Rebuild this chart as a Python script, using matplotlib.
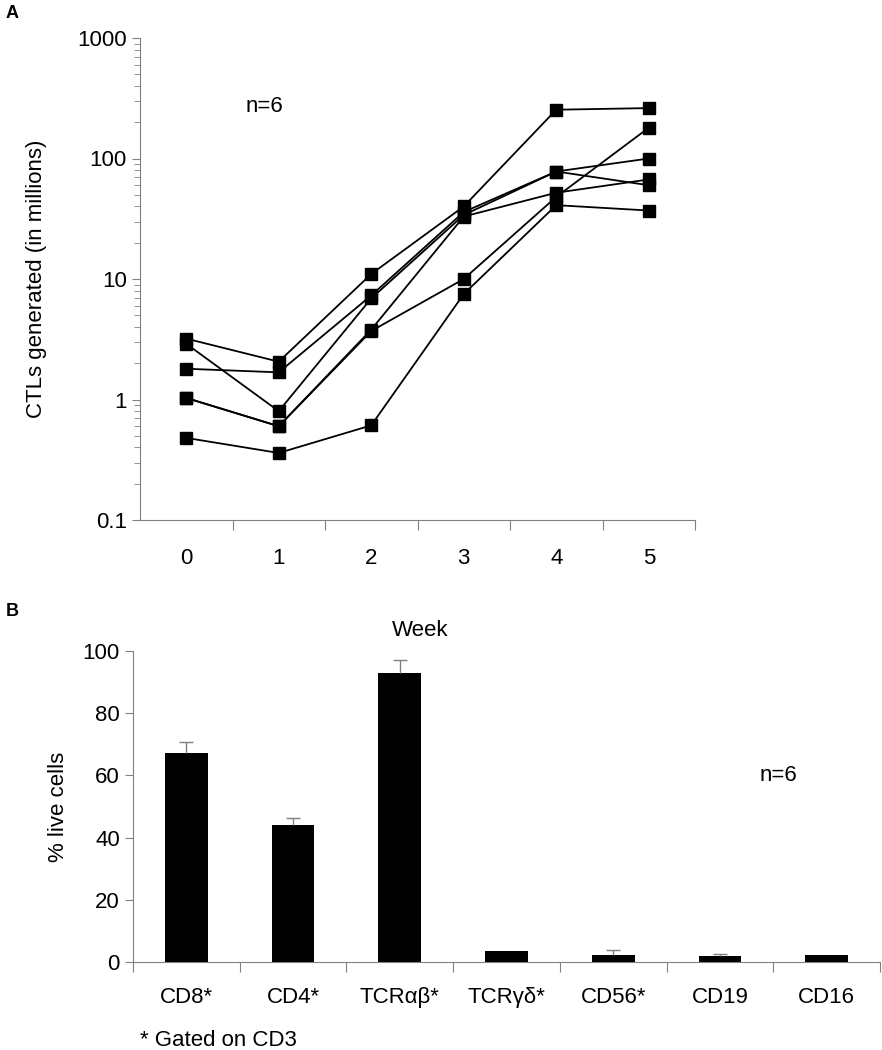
import numpy as np
import matplotlib
matplotlib.use("Agg")
import matplotlib.pyplot as plt
from matplotlib.ticker import FixedLocator, NullFormatter, LogLocator

plt.rcParams['font.family'] = ['Liberation Sans', 'DejaVu Sans']

# panel A: CTL expansion per donor (millions)
weeks = [0, 1, 2, 3, 4, 5]
donor1 = [3.2, 2.06, 11.0, 40.0, 254.0, 262.0]
donor2 = [1.8, 1.68, 7.3, 36.0, 78.0, 100.0]
donor3 = [2.9, 0.80, 6.9, 34.0, 78.0, 60.0]
donor4 = [1.03, 0.60, 3.8, 33.0, 52.0, 67.0]
donor5 = [1.03, 0.60, 3.7, 10.0, 48.0, 180.0]
donor6 = [0.48, 0.36, 0.61, 7.5, 41.0, 37.0]
donors = [donor1, donor2, donor3, donor4, donor5, donor6]

# panel B: phenotype
markers = ["CD8*", "CD4*", "TCR\u03b1\u03b2*", "TCR\u03b3\u03b4*", "CD56*", "CD19", "CD16"]
pct_live = [67.3, 44.2, 92.8, 3.4, 2.1, 1.8, 2.4]
pct_err = [3.3, 2.0, 4.4, 0.0, 1.6, 0.8, 0.0]

grey = '#808080'
fs = 16
W, H = 882, 1050
fig = plt.figure(figsize=(W / 100, H / 100), dpi=100)

# ---- panel A
axA = fig.add_axes([140 / W, 1 - 520 / H, (695 - 140) / W, (520 - 38) / H])
for d in donors:
    axA.plot(weeks, d, color='black', lw=1.3, marker='s', markersize=9,
             markerfacecolor='black', markeredgecolor='black')
axA.set_yscale('log')
axA.set_ylim(0.1, 1000)
axA.set_xlim(-0.5, 5.5)
axA.set_yticks([0.1, 1, 10, 100, 1000])
axA.set_yticklabels(['0.1', '1', '10', '100', '1000'])
axA.yaxis.set_minor_locator(LogLocator(base=10, subs=np.arange(2, 10)))
axA.yaxis.set_minor_formatter(NullFormatter())
axA.xaxis.set_major_locator(FixedLocator([0.5, 1.5, 2.5, 3.5, 4.5, 5.5]))
axA.xaxis.set_major_formatter(NullFormatter())
axA.xaxis.set_minor_locator(FixedLocator(weeks))
axA.set_xticklabels([str(w) for w in weeks], minor=True)
axA.tick_params(axis='x', which='major', length=7, color=grey, direction='out')
axA.tick_params(axis='x', which='minor', length=0, pad=20, labelsize=fs)
axA.tick_params(axis='y', which='major', length=6, color=grey, labelsize=fs)
axA.tick_params(axis='y', which='minor', length=4, color=grey)
for s in ['top', 'right']:
    axA.spines[s].set_visible(False)
for s in ['left', 'bottom']:
    axA.spines[s].set_color(grey)
axA.set_ylabel('CTLs generated (in millions)', fontsize=fs, labelpad=22)
axA.text(0.85, 270, 'n=6', fontsize=fs, ha='center', va='center')
fig.text(420 / W, 1 - 630 / H, 'Week', fontsize=fs, ha='center', va='center')

# ---- panel B
axB = fig.add_axes([133 / W, 1 - 962 / H, (880 - 133) / W, (962 - 651) / H])
x = np.arange(len(markers))
axB.bar(x, pct_live, width=0.4, color='black')
tops = np.array(pct_live) + np.array(pct_err)
has_err = np.array(pct_err) > 0
axB.vlines(x[has_err], np.array(pct_live)[has_err], tops[has_err], color=grey, lw=1)
axB.hlines(tops[has_err], x[has_err] - 0.065, x[has_err] + 0.065, color=grey, lw=1)
axB.set_xlim(-0.5, len(markers) - 0.5)
axB.set_ylim(0, 100)
axB.set_yticks([0, 20, 40, 60, 80, 100])
axB.xaxis.set_major_locator(FixedLocator(np.arange(-0.5, len(markers), 1.0)))
axB.xaxis.set_major_formatter(NullFormatter())
axB.xaxis.set_minor_locator(FixedLocator(x))
axB.set_xticklabels(markers, minor=True)
axB.tick_params(axis='x', which='major', length=7, color=grey, direction='out')
axB.tick_params(axis='x', which='minor', length=0, pad=18, labelsize=fs)
axB.tick_params(axis='y', which='major', length=6, color=grey, labelsize=fs)
for s in ['top', 'right']:
    axB.spines[s].set_visible(False)
for s in ['left', 'bottom']:
    axB.spines[s].set_color(grey)
axB.set_ylabel('% live cells', fontsize=fs, labelpad=10)
axB.text(5.55, 60, 'n=6', fontsize=fs, ha='center', va='center')

fig.text(140 / W, 1 - 1040 / H, '* Gated on CD3', fontsize=fs, ha='left', va='center')
fig.text(6 / W, 1 - 14 / H, 'A', fontsize=13, fontweight='bold', ha='left', va='center')
fig.text(6 / W, 1 - 612 / H, 'B', fontsize=13, fontweight='bold', ha='left', va='center')

fig.savefig('out.png', dpi=100)
